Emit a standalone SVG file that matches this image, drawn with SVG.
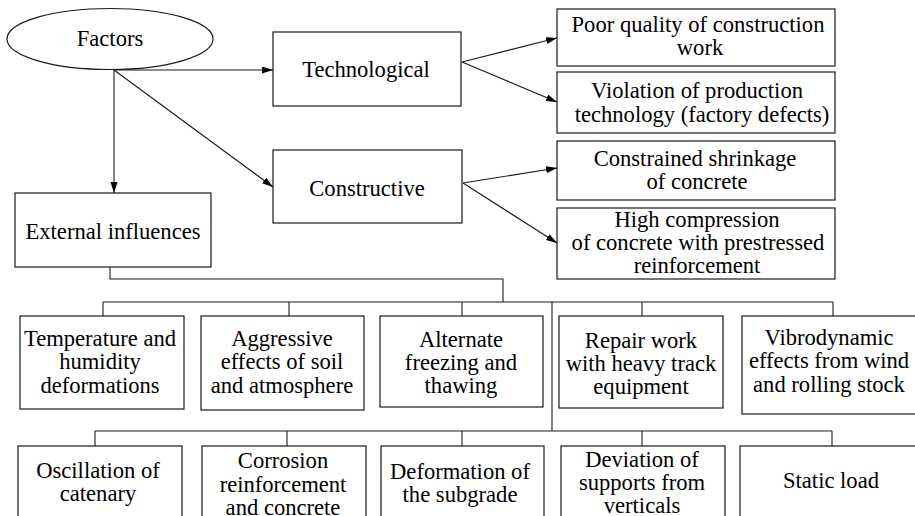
<svg xmlns="http://www.w3.org/2000/svg" width="915" height="516" viewBox="0 0 915 516">
<style>
.box{fill:#fff;stroke:#1a1a1a;stroke-width:1.2}
.ln{fill:none;stroke:#1a1a1a;stroke-width:1.1}
text{font-family:"Liberation Serif","Times New Roman",serif;font-size:22.6px;fill:#000;text-anchor:middle}
</style>
<defs>
<marker id="ah" markerUnits="userSpaceOnUse" markerWidth="12" markerHeight="8" refX="11" refY="3.5" orient="auto">
<path d="M0,0 L11,3.5 L0,7 z" fill="#000"/>
</marker>
</defs>
<rect width="915" height="516" fill="#fff"/>
<g id="connectors">
<line class="ln" x1="114" y1="70" x2="273" y2="70" marker-end="url(#ah)"/>
<line class="ln" x1="114" y1="70" x2="114" y2="193" marker-end="url(#ah)"/>
<line class="ln" x1="114" y1="70" x2="273" y2="187" marker-end="url(#ah)"/>
<line class="ln" x1="462" y1="62" x2="557" y2="38" marker-end="url(#ah)"/>
<line class="ln" x1="462" y1="62" x2="557" y2="102" marker-end="url(#ah)"/>
<line class="ln" x1="463" y1="183" x2="557" y2="168" marker-end="url(#ah)"/>
<line class="ln" x1="463" y1="183" x2="557" y2="243" marker-end="url(#ah)"/>
<polyline class="ln" points="110,267 110,279 503,279 503,302"/>
<line class="ln" x1="103" y1="302" x2="833" y2="302"/>
<line class="ln" x1="103" y1="302" x2="103" y2="316"/>
<line class="ln" x1="289" y1="302" x2="289" y2="316"/>
<line class="ln" x1="462" y1="302" x2="462" y2="316"/>
<line class="ln" x1="642" y1="302" x2="642" y2="316"/>
<line class="ln" x1="833" y1="302" x2="833" y2="316"/>
<line class="ln" x1="552" y1="302" x2="552" y2="431"/>
<line class="ln" x1="95" y1="431" x2="832" y2="431"/>
<line class="ln" x1="95" y1="431" x2="95" y2="446"/>
<line class="ln" x1="287" y1="431" x2="287" y2="446"/>
<line class="ln" x1="462" y1="431" x2="462" y2="446"/>
<line class="ln" x1="642" y1="431" x2="642" y2="446"/>
<line class="ln" x1="832" y1="431" x2="832" y2="446"/>
</g>
<g id="factors">
<ellipse class="box" cx="110" cy="39" rx="103" ry="30.5"/>
<text x="110" y="46">Factors</text>
</g>
<g id="technological">
<rect class="box" x="273" y="32" width="188" height="74"/>
<text x="366" y="77">Technological</text>
</g>
<g id="constructive">
<rect class="box" x="273" y="150" width="189" height="73"/>
<text x="367" y="196">Constructive</text>
</g>
<g id="external">
<rect class="box" x="15" y="193" width="196" height="74"/>
<text x="113" y="239">External influences</text>
</g>
<g id="poor-quality">
<rect class="box" x="557" y="9" width="278" height="57"/>
<text x="698" y="32">Poor quality of construction</text>
<text x="700" y="55">work</text>
</g>
<g id="violation">
<rect class="box" x="557" y="72" width="278" height="61"/>
<text x="697" y="98">Violation of production</text>
<text x="702" y="122">technology (factory defects)</text>
</g>
<g id="constrained">
<rect class="box" x="557" y="141" width="278" height="59"/>
<text x="695" y="166">Constrained shrinkage</text>
<text x="697" y="189">of concrete</text>
</g>
<g id="high-compression">
<rect class="box" x="557" y="208" width="278" height="71"/>
<text x="697" y="227">High compression</text>
<text x="698" y="250">of concrete with prestressed</text>
<text x="697" y="273">reinforcement</text>
</g>
<g id="temperature">
<rect class="box" x="20" y="316" width="164" height="93"/>
<text x="100" y="346">Temperature and</text>
<text x="100" y="369">humidity</text>
<text x="100" y="393">deformations</text>
</g>
<g id="aggressive">
<rect class="box" x="201" y="316" width="163" height="94"/>
<text x="282" y="346">Aggressive</text>
<text x="282" y="369">effects of soil</text>
<text x="282" y="393">and atmosphere</text>
</g>
<g id="alternate">
<rect class="box" x="380" y="316" width="163" height="91"/>
<text x="461" y="347">Alternate</text>
<text x="461" y="370">freezing and</text>
<text x="461" y="393">thawing</text>
</g>
<g id="repair">
<rect class="box" x="559" y="316" width="164" height="92"/>
<text x="641" y="348">Repair work</text>
<text x="641" y="371">with heavy track</text>
<text x="641" y="394">equipment</text>
</g>
<g id="vibrodynamic">
<rect class="box" x="742" y="316" width="180" height="98"/>
<text x="829" y="345">Vibrodynamic</text>
<text x="829" y="368">effects from wind</text>
<text x="829" y="392">and rolling stock</text>
</g>
<g id="oscillation">
<rect class="box" x="18" y="446" width="164" height="80"/>
<text x="98" y="478">Oscillation of</text>
<text x="98" y="501">catenary</text>
</g>
<g id="corrosion">
<rect class="box" x="202" y="446" width="164" height="80"/>
<text x="283" y="468">Corrosion</text>
<text x="283" y="492">reinforcement</text>
<text x="283" y="515">and concrete</text>
</g>
<g id="deformation">
<rect class="box" x="381" y="446" width="163" height="80"/>
<text x="460" y="479">Deformation of</text>
<text x="460" y="502">the subgrade</text>
</g>
<g id="deviation">
<rect class="box" x="561" y="446" width="164" height="80"/>
<text x="642" y="467">Deviation of</text>
<text x="642" y="490">supports from</text>
<text x="642" y="513">verticals</text>
</g>
<g id="static-load">
<rect class="box" x="740" y="446" width="180" height="80"/>
<text x="831" y="488">Static load</text>
</g>
</svg>
